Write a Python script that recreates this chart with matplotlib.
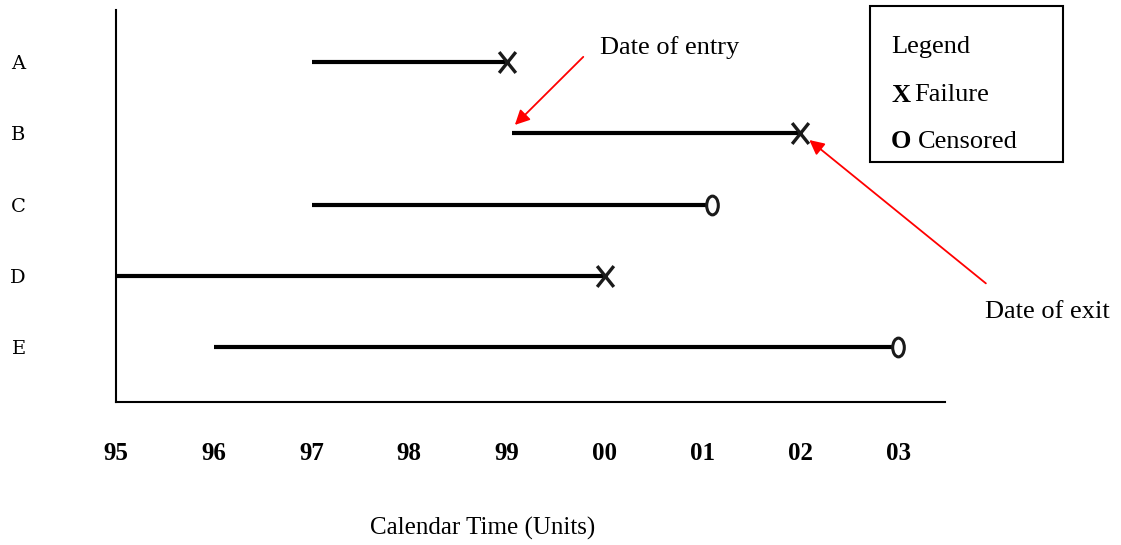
import matplotlib
matplotlib.use("Agg")
import matplotlib.pyplot as plt
from matplotlib.patches import Rectangle
from matplotlib.path import Path
from matplotlib.transforms import Affine2D

# subjects, entry / exit years (95 = 1995 ... 103 = 2003) and outcome
subjects = ["A", "B", "C", "D", "E"]
entry = [97.0, 99.05, 97.0, 95.0, 96.0]
exit_ = [99.0, 102.0, 101.1, 100.0, 103.0]
outcome = ["X", "X", "O", "X", "O"]   # X failure, O censored

years = [95, 96, 97, 98, 99, 100, 101, 102, 103]
year_labels = ["95", "96", "97", "98", "99", "00", "01", "02", "03"]

# letter-shaped markers (taller than wide, like the typed X / 0)
x_mark = Path([(-0.8, -1), (0.8, 1), (-0.8, 1), (0.8, -1)],
              [Path.MOVETO, Path.LINETO, Path.MOVETO, Path.LINETO])
o_mark = Path.unit_circle().transformed(Affine2D().scale(0.62, 1.0))

fig = plt.figure(figsize=(11.21, 5.45), dpi=100)
ax = fig.add_axes([116 / 1121, 1 - 402 / 545, (945 - 116) / 1121, (402 - 10) / 545])
ax.set_xlim(95, 103.48)
ax.set_ylim(0.23, 5.73)

rows = list(range(len(subjects), 0, -1))   # A on top

for y, x0, x1, o in zip(rows, entry, exit_, outcome):
    ax.plot([x0, x1], [y, y], color="black", lw=3.0, solid_capstyle="butt", zorder=2)
    if o == "X":
        ax.plot(x1, y, marker=x_mark, ms=15, mew=2.4, color="#1a1a1a", zorder=3)
    else:
        ax.plot(x1, y, marker=o_mark, ms=13.5, mew=2.2, mec="#1a1a1a", mfc="white", zorder=3)

for s in ["top", "right"]:
    ax.spines[s].set_visible(False)
for s in ["left", "bottom"]:
    ax.spines[s].set_linewidth(1.5)

ax.set_xticks(years)
ax.set_xticklabels(year_labels, family="Liberation Serif", fontweight="bold", fontsize=18)
ax.tick_params(axis="x", length=0, pad=29)
ax.set_yticks(rows)
ax.set_yticklabels(subjects, family="DejaVu Serif", fontsize=14)
ax.tick_params(axis="y", length=0, pad=65)

fig.text(483 / 1121, 1 - 528 / 545, "Calendar Time (Units)",
         ha="center", va="center", family="Liberation Serif", fontsize=18)

# annotations
ax.annotate("", xy=(99.06, 4.09), xytext=(99.8, 5.1),
            arrowprops=dict(arrowstyle="-|>", color="red", lw=1.3, mutation_scale=22))
fig.text(600 / 1121, 1 - 48 / 545, "Date of entry",
         ha="left", va="center", family="Liberation Serif", fontsize=19)

ax.annotate("", xy=(102.07, 3.93), xytext=(103.92, 1.87),
            arrowprops=dict(arrowstyle="-|>", color="red", lw=1.3, mutation_scale=22),
            annotation_clip=False)
fig.text(985 / 1121, 1 - 312 / 545, "Date of exit",
         ha="left", va="center", family="Liberation Serif", fontsize=19)

# legend box
fig.patches.append(Rectangle((870 / 1121, 1 - 162 / 545), 193 / 1121, 156 / 545,
                             transform=fig.transFigure, fill=False, ec="black", lw=1.5))
fig.text(891 / 1121, 1 - 47 / 545, "Legend", family="Liberation Serif", fontsize=19,
         ha="left", va="center")
fig.text(891 / 1121, 1 - 95 / 545, "X", family="Liberation Serif", fontsize=19,
         fontweight="bold", ha="left", va="center")
fig.text(914 / 1121, 1 - 95 / 545, "Failure", family="Liberation Serif", fontsize=19,
         ha="left", va="center")
fig.text(891 / 1121, 1 - 142 / 545, "O", family="Liberation Serif", fontsize=19,
         fontweight="bold", ha="left", va="center")
fig.text(918 / 1121, 1 - 142 / 545, "Censored", family="Liberation Serif", fontsize=19,
         ha="left", va="center")

fig.savefig("out.png", dpi=100)
